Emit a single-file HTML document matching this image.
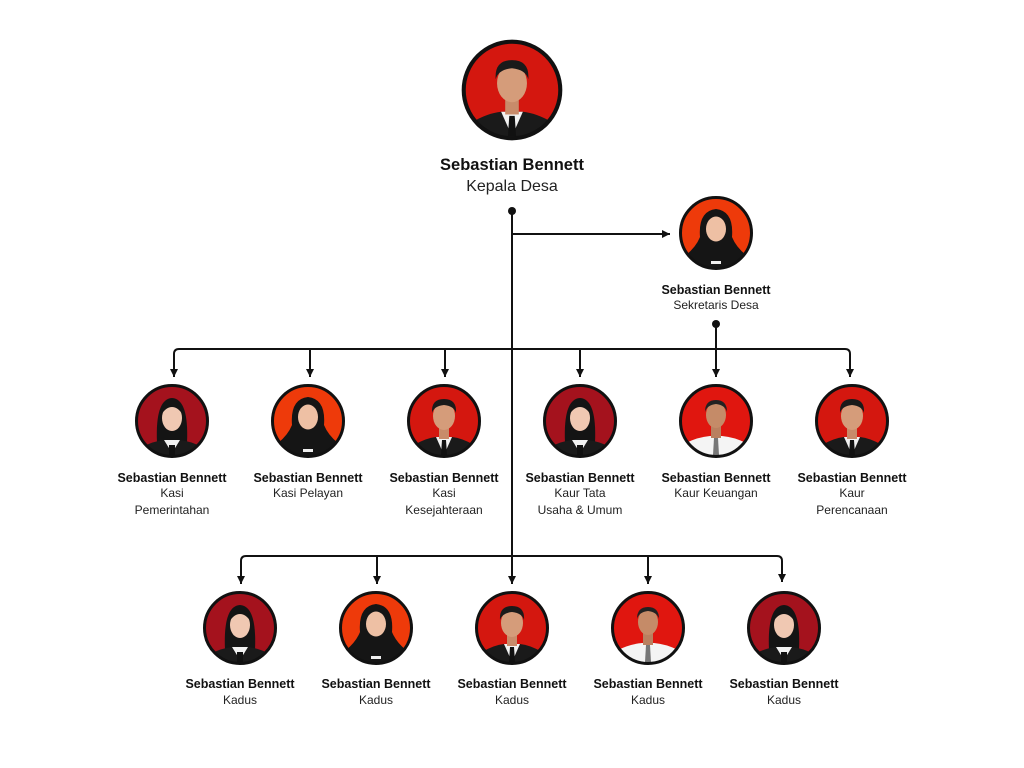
<!DOCTYPE html>
<html><head><meta charset="utf-8"><style>
html,body{margin:0;padding:0;background:#fff;width:1024px;height:768px;overflow:hidden}
svg{display:block}
text{font-family:"Liberation Sans",sans-serif;fill:#111}
.n{font-weight:bold;font-size:12.5px}
.t{font-size:12px;fill:#222}
</style></head><body>
<svg width="1024" height="768" viewBox="0 0 1024 768" xmlns="http://www.w3.org/2000/svg">
<defs>
<clipPath id="c"><circle cx="0" cy="0" r="35"/></clipPath>
<marker id="a" markerWidth="8" markerHeight="8" refX="8" refY="4" orient="auto" markerUnits="userSpaceOnUse"><path d="M0,0 L8,4 L0,8 z" fill="#111"/></marker>
<symbol id="man" viewBox="-37 -37 74 74" overflow="visible">
<g clip-path="url(#c)"><rect x="-37" y="-37" width="74" height="74" fill="#d4170f"/>
<path d="M-34,40 L-30,24 Q-18,17 -8,16 L8,16 Q18,17 30,24 L34,40z" fill="#1a1a1a"/>
<path d="M-8,16 L0,34 L8,16z" fill="#f2f2f2"/><path d="M-2,19 L2,19 L3,34 L-3,34z" fill="#111"/>
<rect x="-5" y="6" width="10" height="12" fill="#c88b6a"/>
<ellipse cx="0" cy="-5" rx="11" ry="14" fill="#d59c7a"/>
<path d="M-12,-8 Q-13,-22 0,-22 Q13,-22 12,-8 Q10,-15 0,-16 Q-10,-15 -12,-8z" fill="#1a1a1a"/></g>
<circle r="35.5" fill="none" stroke="#111" stroke-width="3"/></symbol>
<symbol id="manw" viewBox="-37 -37 74 74" overflow="visible">
<g clip-path="url(#c)"><rect x="-37" y="-37" width="74" height="74" fill="#e0160f"/>
<path d="M-34,40 L-30,22 Q-18,16 -6,15 L6,15 Q18,16 30,22 L34,40z" fill="#f4f4f4"/>
<path d="M-2,17 L2,17 L3,34 L-3,34z" fill="#777"/>
<rect x="-5" y="5" width="10" height="12" fill="#b98060"/>
<ellipse cx="0" cy="-6" rx="10" ry="13" fill="#c58b68"/>
<path d="M-11,-9 Q-11,-21 0,-21 Q11,-21 11,-9 Q9,-16 0,-17 Q-9,-16 -11,-9z" fill="#222"/></g>
<circle r="35.5" fill="none" stroke="#111" stroke-width="3"/></symbol>
<symbol id="hij" viewBox="-37 -37 74 74" overflow="visible">
<g clip-path="url(#c)"><rect x="-37" y="-37" width="74" height="74" fill="#ee3a0a"/>
<path d="M-34,40 L-30,22 Q-20,14 -16,4 Q-18,-22 0,-24 Q18,-22 16,4 Q20,14 30,22 L34,40z" fill="#151515"/>
<ellipse cx="0" cy="-4" rx="10" ry="12.5" fill="#eec0a4"/>
<rect x="-5" y="28" width="10" height="3" fill="#eee"/></g>
<circle r="35.5" fill="none" stroke="#111" stroke-width="3"/></symbol>
<symbol id="wom" viewBox="-37 -37 74 74" overflow="visible">
<g clip-path="url(#c)"><rect x="-37" y="-37" width="74" height="74" fill="#a4121d"/>
<path d="M-15,22 Q-17,-22 0,-23 Q17,-22 15,22z" fill="#141414"/>
<path d="M-34,40 L-30,26 Q-18,20 -8,19 L8,19 Q18,20 30,26 L34,40z" fill="#1a1a1a"/>
<path d="M-8,19 L0,32 L8,19z" fill="#f2f2f2"/><path d="M-3,24 L3,24 L3,34 L-3,34z" fill="#111"/>
<ellipse cx="0" cy="-3" rx="10" ry="13" fill="#f0c8b2"/>
<path d="M-11,-6 Q-10,-19 0,-19 Q10,-19 11,-6 Q6,-14 0,-14 Q-6,-14 -11,-6z" fill="#141414"/></g>
<circle r="35.5" fill="none" stroke="#111" stroke-width="3"/></symbol>
</defs>

<g stroke="#111" stroke-width="2" fill="none">
<line x1="512" y1="211" x2="512" y2="584" marker-end="url(#a)"/>
<line x1="512" y1="234" x2="670" y2="234" marker-end="url(#a)"/>
<line x1="716" y1="324" x2="716" y2="377" marker-end="url(#a)"/>
<path d="M174,377 L174,354 Q174,349 179,349 L845,349 Q850,349 850,354 L850,377" marker-end="url(#a)"/>
<line x1="174" y1="360" x2="174" y2="377" marker-end="url(#a)"/>
<line x1="310" y1="349" x2="310" y2="377" marker-end="url(#a)"/>
<line x1="445" y1="349" x2="445" y2="377" marker-end="url(#a)"/>
<line x1="580" y1="349" x2="580" y2="377" marker-end="url(#a)"/>
<path d="M241,584 L241,561 Q241,556 246,556 L777,556 Q782,556 782,561 L782,582" marker-end="url(#a)"/>
<line x1="241" y1="566" x2="241" y2="584" marker-end="url(#a)"/>
<line x1="377" y1="556" x2="377" y2="584" marker-end="url(#a)"/>
<line x1="648" y1="556" x2="648" y2="584" marker-end="url(#a)"/>
</g>
<circle cx="512" cy="211" r="4" fill="#111"/>
<circle cx="716" cy="324" r="4" fill="#111"/>

<g transform="translate(512,90) scale(1.36)"><use href="#man" x="-37" y="-37" width="74" height="74"/></g>
<text x="512" y="170" text-anchor="middle" style="font-weight:bold;font-size:16.5px">Sebastian Bennett</text>
<text x="512" y="191" text-anchor="middle" style="font-size:16px;fill:#222">Kepala Desa</text>

<use href="#hij" x="679" y="196" width="74" height="74"/>
<text x="716" y="294" text-anchor="middle" class="n">Sebastian Bennett</text>
<text x="716" y="309" text-anchor="middle" class="t">Sekretaris Desa</text>

<use href="#wom" x="135" y="384" width="74" height="74"/>
<use href="#hij" x="271" y="384" width="74" height="74"/>
<use href="#man" x="407" y="384" width="74" height="74"/>
<use href="#wom" x="543" y="384" width="74" height="74"/>
<use href="#manw" x="679" y="384" width="74" height="74"/>
<use href="#man" x="815" y="384" width="74" height="74"/>
<g text-anchor="middle">
<text x="172" y="482" class="n">Sebastian Bennett</text><text x="172" y="497" class="t">Kasi</text><text x="172" y="514" class="t">Pemerintahan</text>
<text x="308" y="482" class="n">Sebastian Bennett</text><text x="308" y="497" class="t">Kasi Pelayan</text>
<text x="444" y="482" class="n">Sebastian Bennett</text><text x="444" y="497" class="t">Kasi</text><text x="444" y="514" class="t">Kesejahteraan</text>
<text x="580" y="482" class="n">Sebastian Bennett</text><text x="580" y="497" class="t">Kaur Tata</text><text x="580" y="514" class="t">Usaha &amp; Umum</text>
<text x="716" y="482" class="n">Sebastian Bennett</text><text x="716" y="497" class="t">Kaur Keuangan</text>
<text x="852" y="482" class="n">Sebastian Bennett</text><text x="852" y="497" class="t">Kaur</text><text x="852" y="514" class="t">Perencanaan</text>
</g>

<use href="#wom" x="203" y="591" width="74" height="74"/>
<use href="#hij" x="339" y="591" width="74" height="74"/>
<use href="#man" x="475" y="591" width="74" height="74"/>
<use href="#manw" x="611" y="591" width="74" height="74"/>
<use href="#wom" x="747" y="591" width="74" height="74"/>
<g text-anchor="middle">
<text x="240" y="688" class="n">Sebastian Bennett</text><text x="240" y="704" class="t">Kadus</text>
<text x="376" y="688" class="n">Sebastian Bennett</text><text x="376" y="704" class="t">Kadus</text>
<text x="512" y="688" class="n">Sebastian Bennett</text><text x="512" y="704" class="t">Kadus</text>
<text x="648" y="688" class="n">Sebastian Bennett</text><text x="648" y="704" class="t">Kadus</text>
<text x="784" y="688" class="n">Sebastian Bennett</text><text x="784" y="704" class="t">Kadus</text>
</g>
</svg>
</body></html>
